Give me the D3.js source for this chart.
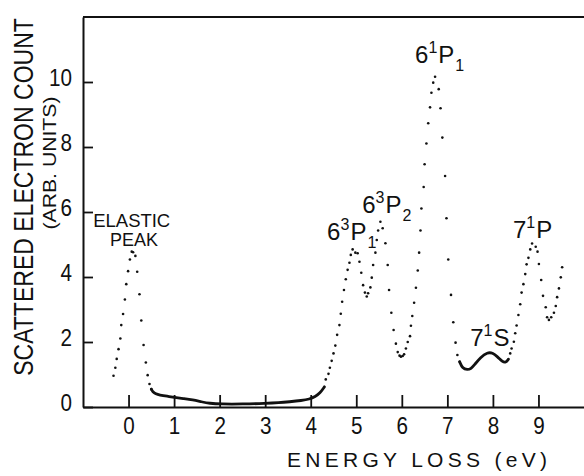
<!DOCTYPE html>
<html>
<head>
<meta charset="utf-8">
<script src="https://cdn.jsdelivr.net/npm/d3@7"></script>
<style>
  body { margin: 0; background: #fff; }
  svg { display: block; }
  text { font-family: "Liberation Sans", Arial, sans-serif; fill: #111; }
  .axis path, .axis line { stroke: #111; }
</style>
</head>
<body>
<div id="chart"></div>
<script>
// energy loss (eV) and scattered electron count
// dotted part of the spectrum
const dotE = [
  -0.33, -0.29, -0.26, -0.22, -0.18, -0.16, -0.12, -0.08, -0.05, -0.01, 0.03, 0.07, 0.10,
  0.15, 0.19, 0.24, 0.28, 0.33, 0.38, 0.42, 0.46, 0.50,
  4.33, 4.39, 4.42, 4.46, 4.50, 4.54, 4.58, 4.63, 4.66, 4.69, 4.73, 4.77, 4.81, 4.85, 4.88, 4.92,
  4.98, 5.03, 5.07, 5.11, 5.15, 5.19, 5.23, 5.26, 5.31, 5.34, 5.37, 5.42, 5.45, 5.48, 5.53,
  5.58, 5.64, 5.69, 5.72, 5.77, 5.82, 5.87, 5.91, 5.95, 5.98, 6.02, 6.05, 6.09, 6.13, 6.18,
  6.20, 6.23, 6.27, 6.31, 6.35, 6.38, 6.41, 6.43, 6.48, 6.50, 6.54, 6.58, 6.62, 6.65, 6.69, 6.73,
  6.81, 6.85, 6.89, 6.95, 6.98, 7.02, 7.08, 7.13, 7.18, 7.22, 7.27,
  8.38, 8.41, 8.46, 8.49, 8.52, 8.56, 8.60, 8.63, 8.67, 8.71, 8.74, 8.78, 8.82, 8.86,
  8.94, 8.98, 9.01, 9.06, 9.10, 9.16, 9.19, 9.23, 9.28, 9.34, 9.38, 9.41, 9.45, 9.49, 9.52
];
const dotN = [
  0.96, 1.21, 1.48, 1.78, 2.11, 2.52, 2.86, 3.31, 3.78, 4.18, 4.54, 4.78, 4.76,
  4.65, 4.16, 3.47, 2.66, 1.91, 1.37, 0.98, 0.71, 0.55,
  0.85, 1.02, 1.21, 1.42, 1.65, 1.89, 2.22, 2.52, 2.87, 3.24, 3.60, 3.93, 4.22, 4.44, 4.68, 4.85,
  4.75, 4.73, 4.47, 4.13, 3.75, 3.52, 3.40, 3.50, 3.68, 3.98, 4.37, 4.75, 5.14, 5.43, 5.70,
  5.50, 5.04, 4.37, 3.60, 2.90, 2.37, 1.95, 1.69, 1.58, 1.55, 1.57, 1.62, 1.80, 2.00, 2.18,
  2.50, 2.80, 3.21, 3.67, 4.20, 4.75, 5.43, 6.11, 6.77, 7.47, 8.11, 8.73, 9.22, 9.67, 9.98, 10.16,
  9.78, 9.19, 8.29, 7.11, 5.81, 4.54, 3.45, 2.61, 1.98, 1.60, 1.39,
  1.65, 1.80, 2.01, 2.27, 2.51, 2.83, 3.16, 3.52, 3.78, 4.09, 4.39, 4.59, 4.85, 5.03,
  4.93, 4.78, 4.40, 3.91, 3.42, 3.07, 2.76, 2.68, 2.76, 2.90, 3.11, 3.38, 3.65, 3.99, 4.30
];
// dense parts where the points merge into a solid trace
const valleyE = [0.50, 0.53, 0.60, 0.68, 0.85, 1.00, 1.20, 1.41, 1.60, 1.78, 2.03, 2.50, 3.02, 3.30, 3.53, 3.80, 3.97, 4.10, 4.20, 4.30];
const valleyN = [0.55, 0.47, 0.40, 0.37, 0.33, 0.30, 0.26, 0.22, 0.16, 0.11, 0.09, 0.09, 0.11, 0.13, 0.16, 0.20, 0.24, 0.32, 0.42, 0.62];
const s7E = [7.27, 7.33, 7.44, 7.52, 7.59, 7.73, 7.88, 7.99, 8.10, 8.21, 8.28, 8.34];
const s7N = [1.39, 1.19, 1.14, 1.18, 1.29, 1.53, 1.68, 1.67, 1.55, 1.39, 1.36, 1.47];

const xTicks = [0, 1, 2, 3, 4, 5, 6, 7, 8, 9];
const yTicks = [0, 2, 4, 6, 8, 10];

// state labels: [main, sup, letter, sub, energy, count]
const levelLabels = [
  ["6", "1", "P", "1", 6.29, 10.58],
  ["6", "3", "P", "2", 5.13, 5.97],
  ["6", "3", "P", "1", 4.36, 5.14],
  ["7", "1", "P", "", 8.44, 5.20],
  ["7", "1", "S", "", 7.50, 1.88]
];

const W = 584, H = 476;
const margin = {top: 17, right: 0, bottom: 69, left: 83};
const width = W - margin.left - margin.right;
const height = H - margin.top - margin.bottom;

const svg = d3.select("#chart").append("svg")
    .attr("width", W).attr("height", H)
  .append("g")
    .attr("transform", `translate(${margin.left},${margin.top})`);

const x = d3.scaleLinear().domain([-1, 10]).range([0, width]);
const y = d3.scaleLinear().domain([0, 12]).range([height, 0]);

// --- Axes ---
const xAxis = d3.axisBottom(x).tickValues(xTicks).tickFormat(d3.format("d"))
    .tickSizeInner(-12).tickSizeOuter(0).tickPadding(10);
const yAxis = d3.axisLeft(y).tickValues(yTicks).tickFormat(d3.format("d"))
    .tickSizeInner(-10).tickSizeOuter(0).tickPadding(11);

const gx = svg.append("g").attr("class", "axis").attr("transform", `translate(0,${height})`).call(xAxis);
const gy = svg.append("g").attr("class", "axis").call(yAxis);
[gx, gy].forEach(g => {
  g.select(".domain").attr("stroke-width", 2);
  g.selectAll(".tick line").attr("stroke-width", 1.8);
  g.selectAll(".tick text").attr("font-size", 24).attr("fill", "#111")
    .style("font-family", "'Liberation Sans', Arial, sans-serif")
    // the original lettering is a bit narrower than Liberation Sans
    .attr("textLength", d => String(d).length * 11.5)
    .attr("lengthAdjust", "spacingAndGlyphs");
});
gy.selectAll(".tick text").attr("dy", "0.14em");

// top border
svg.append("line")
    .attr("x1", 0).attr("x2", width).attr("y1", 0).attr("y2", 0)
    .attr("stroke", "#111").attr("stroke-width", 2);

// axis titles
svg.append("text")
    .attr("x", 204).attr("y", height + 60)
    .attr("font-size", 21)
    .attr("textLength", 260).attr("lengthAdjust", "spacing")
    .text("ENERGY LOSS (eV)");

// y title: squeeze horizontally with a scale so its box stays true
const yTitle = svg.append("text")
    .attr("text-anchor", "middle")
    .attr("font-size", 27)
    .text("SCATTERED ELECTRON COUNT");
const yTitleLen = yTitle.node().getComputedTextLength();
yTitle.attr("transform",
  `translate(${33 - margin.left},${197 - margin.top}) rotate(-90) scale(${358 / yTitleLen},1)`);

svg.append("text")
    .attr("transform", `translate(${56 - margin.left},${163 - margin.top}) rotate(-90)`)
    .attr("text-anchor", "middle")
    .attr("font-size", 19)
    .attr("textLength", 133).attr("lengthAdjust", "spacingAndGlyphs")
    .text("(ARB. UNITS)");

// --- Spectrum ---
const line = d3.line().curve(d3.curveBasis).x(d => x(d[0])).y(d => y(d[1]));
[[valleyE, valleyN], [s7E, s7N]].forEach(([es, ns]) => {
  svg.append("path")
      .datum(es.map((e, i) => [e, ns[i]]))
      .attr("d", line)
      .attr("fill", "none")
      .attr("stroke", "#111")
      .attr("stroke-width", 2.8)
      .attr("stroke-linecap", "round");
});

svg.selectAll("circle.pt")
  .data(dotE.map((e, i) => [e, dotN[i]]))
  .enter().append("circle")
    .attr("class", "pt")
    .attr("cx", d => x(d[0]))
    .attr("cy", d => y(d[1]))
    .attr("r", 1.3)
    .attr("fill", "#111");

// --- Labels ---
const elastic = svg.append("text").attr("text-anchor", "middle").attr("font-size", 19);
elastic.append("tspan").attr("x", x(0.07)).attr("y", y(5.55))
    .attr("textLength", 77).attr("lengthAdjust", "spacingAndGlyphs").text("ELASTIC");
elastic.append("tspan").attr("x", x(0.12)).attr("y", y(4.96))
    .attr("textLength", 48).attr("lengthAdjust", "spacingAndGlyphs").text("PEAK");

levelLabels.forEach(([main, sup, letter, sub, e, n]) => {
  const t = svg.append("text").attr("x", x(e)).attr("y", y(n)).attr("font-size", 24);
  t.append("tspan").text(main);
  t.append("tspan").attr("font-size", 16).attr("dy", -10).text(sup);
  t.append("tspan").attr("dy", 10).attr("dx", 1).text(letter);
  if (sub) t.append("tspan").attr("font-size", 16).attr("dy", 8).attr("dx", 1).text(sub);
});
</script>
</body>
</html>
